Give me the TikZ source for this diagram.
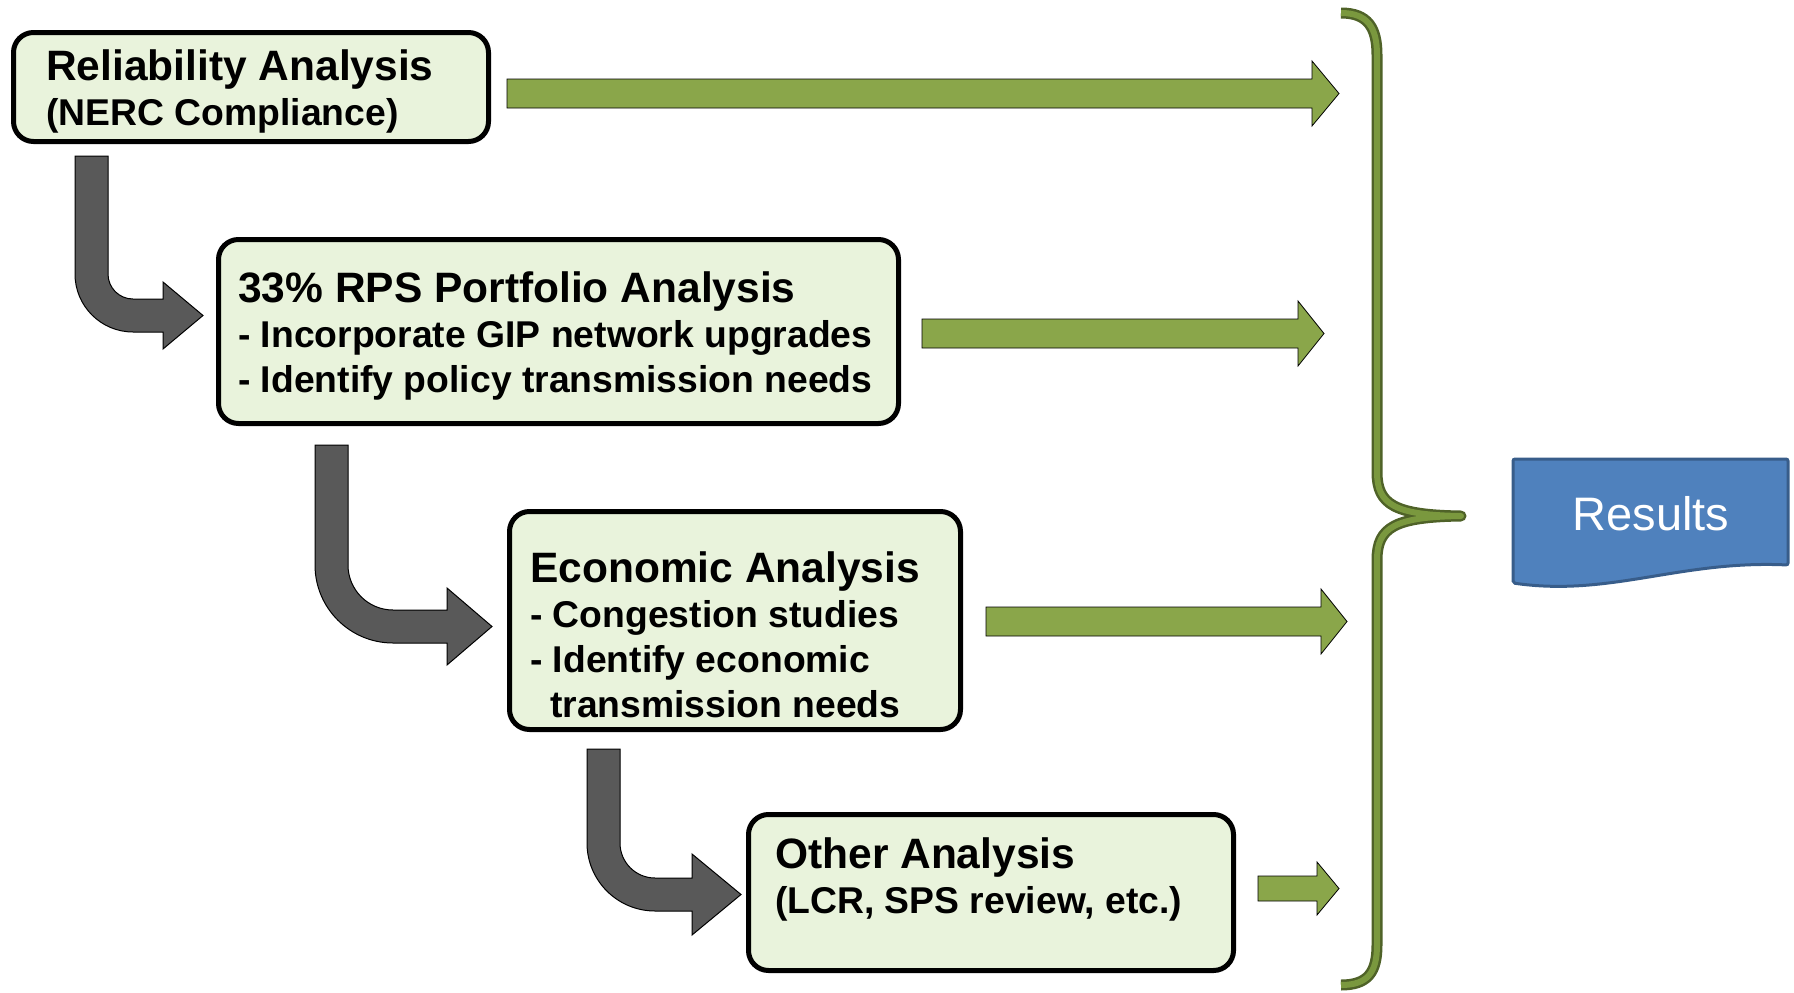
\documentclass[tikz,border=0pt]{standalone}
\usepackage{fontspec}
\setmainfont{Liberation Sans}
\usetikzlibrary{positioning}
\definecolor{boxgreen}{HTML}{E9F3DC}
\definecolor{arrowgreen}{HTML}{8AA64A}
\definecolor{bendgray}{HTML}{595959}
\definecolor{bracedark}{HTML}{4F6228}
\definecolor{bracelight}{HTML}{7A983E}
\definecolor{resblue}{HTML}{4F81BD}
\definecolor{resedge}{HTML}{385D8A}
\newcommand{\stagetitle}[1]{{\fontsize{42.5}{45}\selectfont #1}}

\begin{document}
\begin{tikzpicture}[x=1pt, y=1pt,
    stagebox/.style={draw=black, line width=5pt, fill=boxgreen, rounded corners=20pt, inner sep=0pt},
    stagetext/.style={anchor=base west, inner sep=0pt, align=left, font=\fontsize{37.3}{45}\selectfont\bfseries},
    greenarrow/.style={draw=black, line width=0.8pt, fill=arrowgreen},
    bentarrow/.style={draw=black, line width=1pt, fill=bendgray},
    brace/.style={draw=bracelight, line width=6pt, line join=round,
        preaction={draw=bracedark, line width=11pt, line join=round}}]
\useasboundingbox (0,0) rectangle (1794,-993);

% stage boxes
\node[stagebox, minimum width=475pt, minimum height=109pt] (rel) at (251,-87) {};
\node[stagebox, minimum width=680pt, minimum height=184pt] (rps) at (558.5,-331.5) {};
\node[stagebox, minimum width=451pt, minimum height=218pt] (econ) at (735,-620.5) {};
\node[stagebox, minimum width=485pt, minimum height=156pt] (other) at (991,-892.5) {};

% text, placed by the baseline of the last line
\node[stagetext] (relText) at (46,-125) {\stagetitle{Reliability Analysis}\\(NERC Compliance)};
\node[stagetext] (rpsText) at (238,-392) {\stagetitle{33\% RPS Portfolio Analysis}\\- Incorporate GIP network upgrades\\- Identify policy transmission needs};
\node[stagetext] (econText) at (530,-717) {\stagetitle{Economic Analysis}\\- Congestion studies\\- Identify economic\\\hspace*{20pt}transmission needs};
\node[stagetext] (otherText) at (775,-913) {\stagetitle{Other Analysis}\\(LCR, SPS review, etc.)};

% bent arrows between stages
\draw[bentarrow] (75,-156) -- (108,-156) -- (108,-274) arc[start angle=180, end angle=270, radius=25pt]
    -- (163,-299) -- (163,-282) -- (203,-315.5) -- (163,-349) -- (163,-332) -- (133,-332)
    arc[start angle=270, end angle=180, radius=58pt] -- cycle;
\draw[bentarrow] (315,-445) -- (348,-445) -- (348,-565) arc[start angle=180, end angle=270, radius=45pt]
    -- (447,-610) -- (447,-588) -- (492,-626.5) -- (447,-665) -- (447,-643) -- (393,-643)
    arc[start angle=270, end angle=180, radius=78pt] -- cycle;
\draw[bentarrow] (587,-749) -- (620,-749) -- (620,-843) arc[start angle=180, end angle=270, radius=35pt]
    -- (692,-878) -- (692,-854) -- (741,-894.5) -- (692,-935) -- (692,-911) -- (655,-911)
    arc[start angle=270, end angle=180, radius=68pt] -- cycle;

% arrows to the brace
\draw[greenarrow] (507,-79) -- (1312,-79) -- (1312,-61) -- (1339,-93.5) -- (1312,-126) -- (1312,-108) -- (507,-108) -- cycle;
\draw[greenarrow] (922,-319) -- (1298,-319) -- (1298,-301) -- (1324,-333.5) -- (1298,-366) -- (1298,-348) -- (922,-348) -- cycle;
\draw[greenarrow] (986,-607) -- (1321,-607) -- (1321,-589) -- (1347,-621.5) -- (1321,-654) -- (1321,-636) -- (986,-636) -- cycle;
\draw[greenarrow] (1258,-876) -- (1317,-876) -- (1317,-862) -- (1339,-888.5) -- (1317,-915) -- (1317,-901) -- (1258,-901) -- cycle;

% brace
\draw[brace] (1341,-13) .. controls (1368,-13) and (1377,-28) .. (1377,-55) -- (1377,-472)
    .. controls (1377,-505) and (1395,-515) .. (1461,-516)
    .. controls (1395,-517) and (1377,-527) .. (1377,-560) -- (1377,-945)
    .. controls (1377,-972) and (1368,-985) .. (1341,-985);

% results
\draw[draw=resedge, line width=3pt, fill=resblue, rounded corners=2pt] (1513,-459) -- (1788,-459) -- (1788,-565)
    .. controls (1680,-560) and (1610,-597) .. (1513,-583) -- cycle;
\node[font=\fontsize{47}{50}\selectfont, text=white, inner sep=0pt] (results) at (1651,-514) {Results};
\end{tikzpicture}
\end{document}
